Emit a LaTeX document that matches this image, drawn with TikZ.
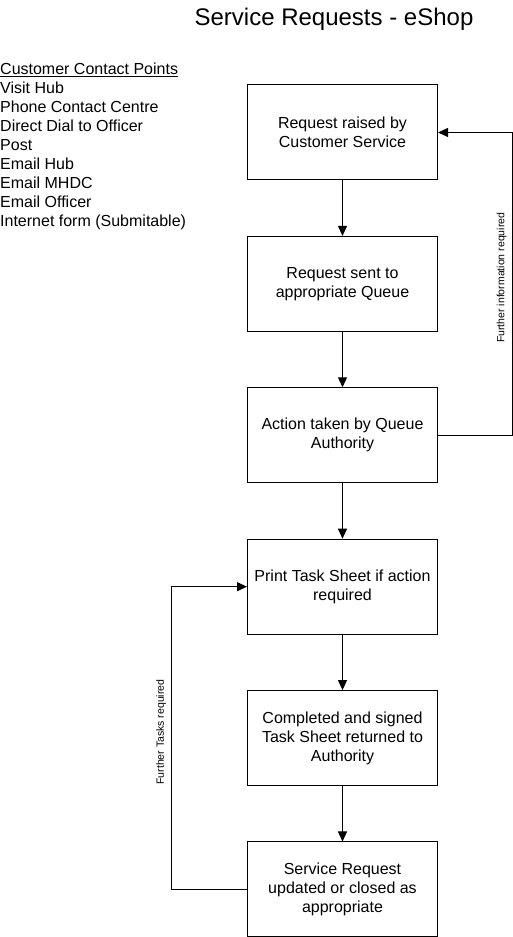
\documentclass[tikz,border=0pt]{standalone}
\usepackage{fontspec}
\setmainfont{Liberation Sans}
\usetikzlibrary{positioning, arrows.meta}

\begin{document}
\begin{tikzpicture}[x=1pt, y=1pt, node distance=55.4pt,
	stage/.style={draw, line width=1pt, minimum width=190pt, minimum height=95pt,
		align=center, font=\fontsize{16}{19}\selectfont},
	flow/.style={line width=1pt, -{Triangle[length=10pt, width=9pt]}},
	note/.style={font=\fontsize{10.5}{12}\selectfont, rotate=90, anchor=south, inner sep=5pt}
]
	\useasboundingbox (0,0) rectangle (513,937);

	%% Title
	\node (title) [anchor=base, font=\fontsize{24}{28}\selectfont] at (334,911) {Service Requests - eShop};

	%% Contact points
	\node (contacts) [anchor=north west, inner sep=0pt, align=left, font=\fontsize{16}{19}\selectfont]
		at (0,874.5) {\underline{Customer Contact Points}\\Visit Hub\\Phone Contact Centre\\
		Direct Dial to Officer\\Post\\Email Hub\\Email MHDC\\Email Officer\\Internet form (Submitable)};

	%% Stages
	\node (raised) [stage] at (342.5,804.5) {Request raised by\\Customer Service};
	\node (queue) [stage, below=of raised] {Request sent to\\appropriate Queue};
	\node (action) [stage, below=of queue] {Action taken by Queue\\Authority};
	\node (print) [stage, below=of action] {Print Task Sheet if action\\required};
	\node (signed) [stage, below=of print] {Completed and signed\\Task Sheet returned to\\Authority};
	\node (closed) [stage, below=of signed] {Service Request\\updated or closed as\\appropriate};

	%% Main flow
	\draw [flow] (raised) -- (queue);
	\draw [flow] (queue) -- (action);
	\draw [flow] (action) -- (print);
	\draw [flow] (print) -- (signed);
	\draw [flow] (signed) -- (closed);

	%% Loops back
	\draw [flow] (action.east) -- ++(74,0)
		|- node [note, pos=0.26] {Further information required} (raised.east);
	\draw [flow] (closed.west) -- ++(-75.5,0)
		|- node [note, pos=0.26] {Further Tasks required} (print.west);
\end{tikzpicture}
\end{document}
